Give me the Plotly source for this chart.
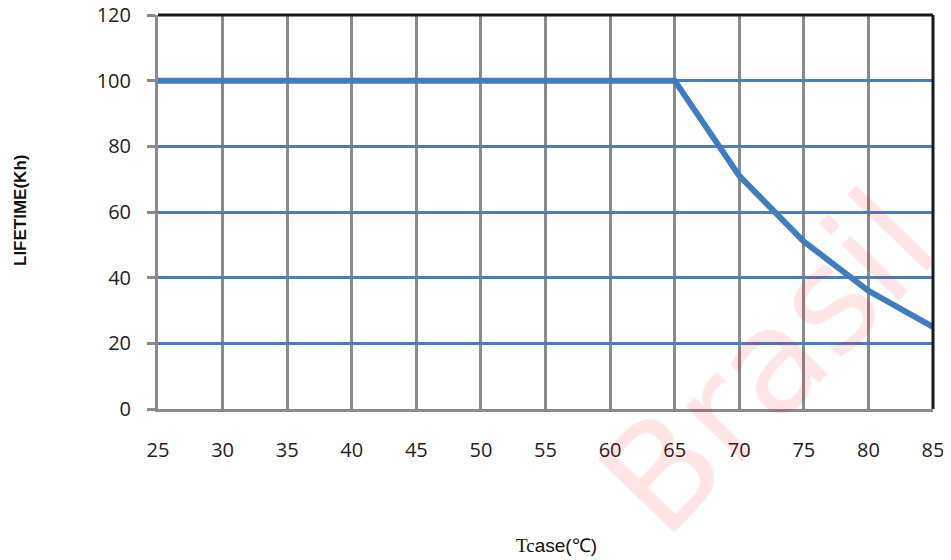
import plotly.graph_objects as go

tcase = [25, 65, 70, 75, 80, 85]
lifetime = [100, 100, 71, 51, 36, 25]
x_ticks = [25, 30, 35, 40, 45, 50, 55, 60, 65, 70, 75, 80, 85]
y_ticks = [0, 20, 40, 60, 80, 100, 120]

# page body has an 8px margin; figure is sized/offset to compensate
L, T, PW, PH = 150, 7, 775, 394

fig = go.Figure()
fig.add_trace(go.Scatter(
    x=tcase, y=lifetime, mode="lines",
    line=dict(color="#3f7dbf", width=6),
    hoverinfo="skip", showlegend=False,
))


def px(xp):
    return (xp - 8 - L) / PW


def py(yp):
    return (8 + T + PH - yp) / PH


wm_font = dict(family="DejaVu Sans", size=145, color="rgba(255,0,0,0.10)")

fig.update_layout(
    width=943, height=552,
    margin=dict(l=L, r=18, t=T, b=151, autoexpand=False),
    paper_bgcolor="white", plot_bgcolor="white",
    font=dict(family="Open Sans", size=20, color="#333333"),
    xaxis=dict(
        range=[25, 85], tickvals=x_ticks, ticktext=[str(v) for v in x_ticks],
        showgrid=True, gridcolor="#8a8a8a", gridwidth=3,
        showline=True, linecolor="#8a8a8a", linewidth=3,
        ticks="", ticklabelstandoff=21, zeroline=False, automargin=False,
        ticklabeloverflow="allow",
        tickfont=dict(size=20, color="#222222"),
    ),
    yaxis=dict(
        range=[0, 120], tickvals=y_ticks, ticktext=[str(v) for v in y_ticks],
        showgrid=True, gridcolor="#4a7ebd", gridwidth=3,
        showline=True, linecolor="#8a8a8a", linewidth=3,
        ticks="outside", ticklen=8, tickwidth=3, tickcolor="#8a8a8a",
        ticklabelstandoff=12, zeroline=False, automargin=False,
        ticklabeloverflow="allow",
        tickfont=dict(size=20, color="#222222"),
    ),
    shapes=[
        dict(type="line", xref="paper", yref="paper", x0=0, x1=1, y0=1, y1=1,
             line=dict(color="#1a1a1a", width=3)),
        dict(type="line", xref="paper", yref="paper", x0=1, x1=1, y0=0, y1=1,
             line=dict(color="#1a1a1a", width=3)),
    ],
    annotations=[
        dict(text="<b>LIFETIME(Kh)</b>", xref="paper", yref="paper",
             x=px(20), y=py(211), xanchor="center", yanchor="middle",
             textangle=-90, showarrow=False,
             font=dict(family="Liberation Sans", size=17, color="#111111"),
             ),
        dict(text='<span style="font-family:Liberation Serif">Tc</span>ase(<span style="font-family:Liberation Serif">℃</span>)',
             xref="paper", yref="paper",
             x=px(556), y=py(545),
             xanchor="center", yanchor="middle", showarrow=False,
             font=dict(family="Liberation Sans", size=19, color="#111111")),
        dict(text="Brasil", xref="paper", yref="paper",
             x=px(768), y=py(362),
             xanchor="center", yanchor="middle", showarrow=False,
             textangle=-46, font=wm_font),
    ],
)

fig.write_html("out.html", config={"responsive": False})
